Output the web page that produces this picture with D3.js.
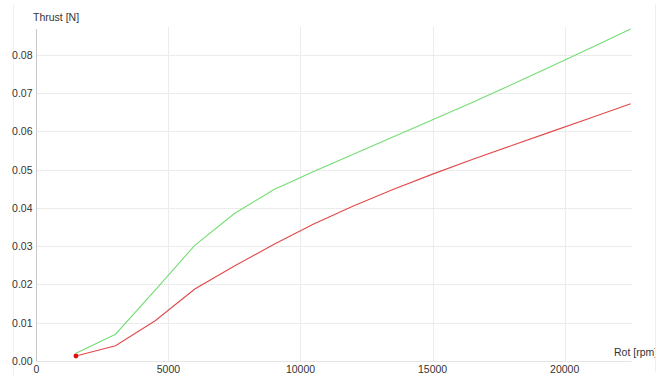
<!DOCTYPE html>
<html>
<head>
<meta charset="utf-8">
<script src="https://cdn.jsdelivr.net/npm/d3@7"></script>
<style>
  html, body { margin: 0; padding: 0; background: #fff; }
  svg { display: block; font-family: "Liberation Sans", Arial, sans-serif; }
</style>
</head>
<body>
<svg id="chart" width="668" height="376"></svg>
<script>
// Rotor speed samples [rpm]
const rpm = [1500, 3000, 4500, 6000, 7500, 9000, 10500, 12000, 13500, 15000, 16500, 18000, 19500, 21000, 22500];
// Thrust [N], upper curve
const thrustGreen = [0.0020, 0.0070, 0.0185, 0.0302, 0.0385, 0.0448, 0.0495, 0.0540, 0.0585, 0.0630, 0.0675, 0.0722, 0.0770, 0.0818, 0.0867];
// Thrust [N], lower curve
const thrustRed = [0.0013, 0.0040, 0.0105, 0.0188, 0.0248, 0.0305, 0.0358, 0.0405, 0.0448, 0.0488, 0.0526, 0.0563, 0.0599, 0.0635, 0.0672];
const xTicks = [0, 5000, 10000, 15000, 20000];
const yTicks = [0, 0.01, 0.02, 0.03, 0.04, 0.05, 0.06, 0.07, 0.08];

const svg = d3.select("#chart");
const plotL = 36.3, plotR = 630.7, plotT = 29, plotB = 361;

const x = d3.scaleLinear().domain([0, 22500]).range([plotL, plotR]);
const y = d3.scaleLinear().domain([0, 0.0867]).range([plotB, plotT]);

// widget frame edges
svg.append("line").attr("x1", 13.5).attr("x2", 13.5).attr("y1", 4).attr("y2", 376)
  .attr("stroke", "#f0f0f0").attr("stroke-width", 1);
svg.append("line").attr("x1", 655.5).attr("x2", 655.5).attr("y1", 4).attr("y2", 372)
  .attr("stroke", "#eeeeee").attr("stroke-width", 1);

// horizontal dotted grid
svg.append("g").selectAll("line").data(yTicks.filter(d => d > 0)).join("line")
  .attr("x1", plotL).attr("x2", plotR + 1)
  .attr("y1", d => Math.round(y(d)) + 0.5).attr("y2", d => Math.round(y(d)) + 0.5)
  .attr("stroke", "#d8d8d8").attr("stroke-width", 1).attr("stroke-dasharray", "1,1");

// vertical grid
svg.append("g").selectAll("line").data(xTicks.filter(d => d > 0)).join("line")
  .attr("x1", d => Math.round(x(d)) + 0.5).attr("x2", d => Math.round(x(d)) + 0.5)
  .attr("y1", plotT - 2).attr("y2", plotB)
  .attr("stroke", "#ececec").attr("stroke-width", 1);

// axis lines
svg.append("line").attr("x1", Math.round(plotL) + 0.5).attr("x2", Math.round(plotL) + 0.5)
  .attr("y1", plotT).attr("y2", plotB + 0.5)
  .attr("stroke", "#c8c8c8").attr("stroke-width", 1);
svg.append("line").attr("x1", plotL).attr("x2", plotR + 1)
  .attr("y1", plotB + 0.5).attr("y2", plotB + 0.5)
  .attr("stroke", "#e4e4e4").attr("stroke-width", 1);

// tick labels
svg.append("g").selectAll("text").data(yTicks).join("text")
  .attr("x", 32.5).attr("y", d => y(d) + 4)
  .attr("text-anchor", "end").attr("font-size", "10.5px").attr("fill", "#333")
  .text(d => d3.format(".2f")(d));
svg.append("g").selectAll("text").data(xTicks).join("text")
  .attr("x", d => x(d)).attr("y", 373)
  .attr("text-anchor", "middle").attr("font-size", "10.5px").attr("fill", "#333")
  .text(d => d);

// axis titles
svg.append("text").attr("x", 33).attr("y", 21)
  .attr("font-size", "10.5px").attr("fill", "#333").text("Thrust [N]");
svg.append("clipPath").attr("id", "rightEdge")
  .append("rect").attr("x", 0).attr("y", 0).attr("width", 655).attr("height", 376);
svg.append("text").attr("x", 614).attr("y", 356)
  .attr("clip-path", "url(#rightEdge)")
  .attr("font-size", "10.5px").attr("fill", "#333").text("Rot [rpm]");

// curves
const line = vals => d3.line().x((d, i) => x(rpm[i])).y(d => y(d))(vals);
svg.append("path").attr("d", line(thrustGreen))
  .attr("fill", "none").attr("stroke", "#74dd74").attr("stroke-width", 1.1);
svg.append("path").attr("d", line(thrustRed))
  .attr("fill", "none").attr("stroke", "#e04a4a").attr("stroke-width", 1.1);

// current operating point
svg.append("circle").attr("cx", x(rpm[0])).attr("cy", y(thrustRed[0])).attr("r", 2.4)
  .attr("fill", "#e01010");
</script>
</body>
</html>
